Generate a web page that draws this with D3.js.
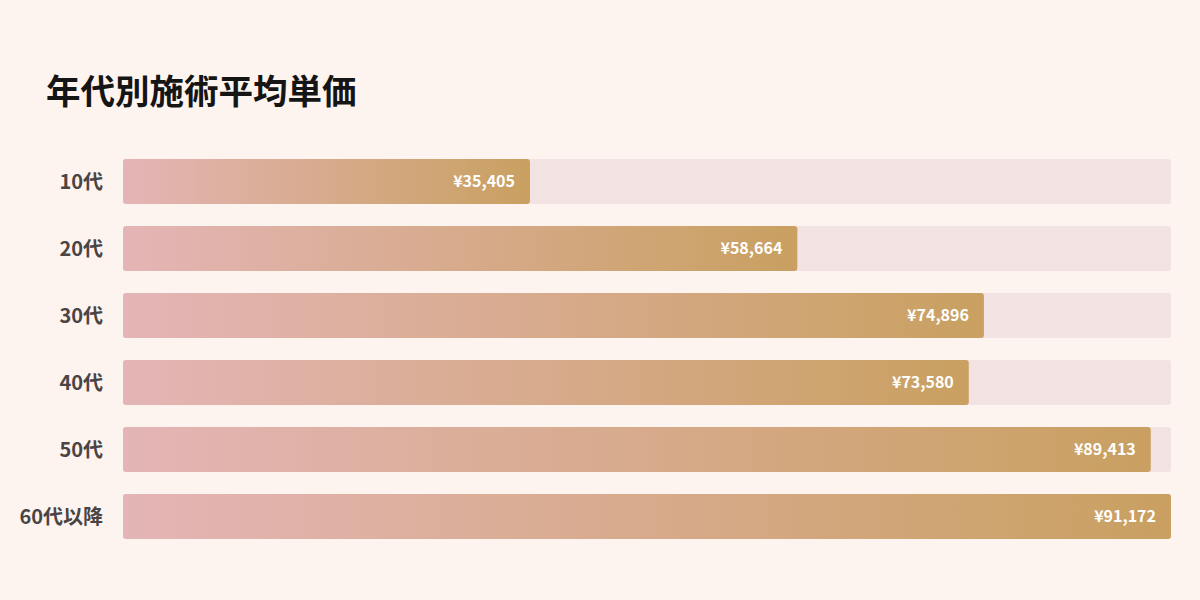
<!DOCTYPE html>
<html lang="ja">
<head>
  <meta charset="UTF-8" />
  <title>年代別施術平均単価</title>
  <script src="https://d3js.org/d3.v7.min.js"></script>
  <style>
    body {
      margin: 0;
      background-color: #fdf4f0;
      font-family: 'Noto Sans CJK JP', 'Noto Sans', sans-serif;
    }
    svg { display: block; }
  </style>
</head>
<body>
  <svg width="1200" height="600"></svg>

  <script>
    // data
    const ageGroups = ["10代", "20代", "30代", "40代", "50代", "60代以降"];
    const avgPrices = [35405, 58664, 74896, 73580, 89413, 91172];

    const width = 1200, height = 600;
    const margin = { left: 123, right: 29 };
    const svg = d3.select("svg");

    const defs = svg.append("defs");
    const grad = defs.append("linearGradient")
      .attr("id", "barGrad")
      .attr("x1", "0%").attr("x2", "100%")
      .attr("y1", "0%").attr("y2", "0%");
    grad.append("stop").attr("offset", "0%").attr("stop-color", "#e4b5b6");
    grad.append("stop").attr("offset", "100%").attr("stop-color", "#c9a061");

    svg.append("text")
      .attr("x", 46)
      .attr("y", 104)
      .attr("font-size", 34.5)
      .attr("font-weight", 700)
      .attr("fill", "#151515")
      .text("年代別施術平均単価");

    const x = d3.scaleLinear()
      .domain([0, d3.max(avgPrices)])
      .range([margin.left, width - margin.right]);

    const y = d3.scaleBand()
      .domain(ageGroups)
      .range([148, 550])
      .paddingInner(0.33)
      .paddingOuter(0.165);

    const rows = svg.append("g")
      .selectAll("g")
      .data(ageGroups.map((g, i) => ({ group: g, value: avgPrices[i] })))
      .join("g");

    // track behind each bar
    rows.append("rect")
      .attr("x", x(0))
      .attr("y", d => y(d.group))
      .attr("width", x.range()[1] - x(0))
      .attr("height", y.bandwidth())
      .attr("rx", 3)
      .attr("fill", "#f2e3e2");

    rows.append("rect")
      .attr("x", x(0))
      .attr("y", d => y(d.group))
      .attr("width", d => x(d.value) - x(0))
      .attr("height", y.bandwidth())
      .attr("rx", 3)
      .attr("fill", "url(#barGrad)");

    rows.append("text")
      .attr("x", d => x(d.value) - 15)
      .attr("y", d => y(d.group) + y.bandwidth() / 2)
      .attr("dy", "0.35em")
      .attr("text-anchor", "end")
      .attr("font-size", 16)
      .attr("font-weight", 700)
      .attr("fill", "#ffffff")
      .text(d => "¥" + d3.format(",")(d.value));

    rows.append("text")
      .attr("x", 103)
      .attr("y", d => y(d.group) + y.bandwidth() / 2)
      .attr("dy", "0.35em")
      .attr("text-anchor", "end")
      .attr("font-size", 20)
      .attr("font-weight", 700)
      .attr("fill", "#4a4444")
      .text(d => d.group);
  </script>
</body>
</html>
